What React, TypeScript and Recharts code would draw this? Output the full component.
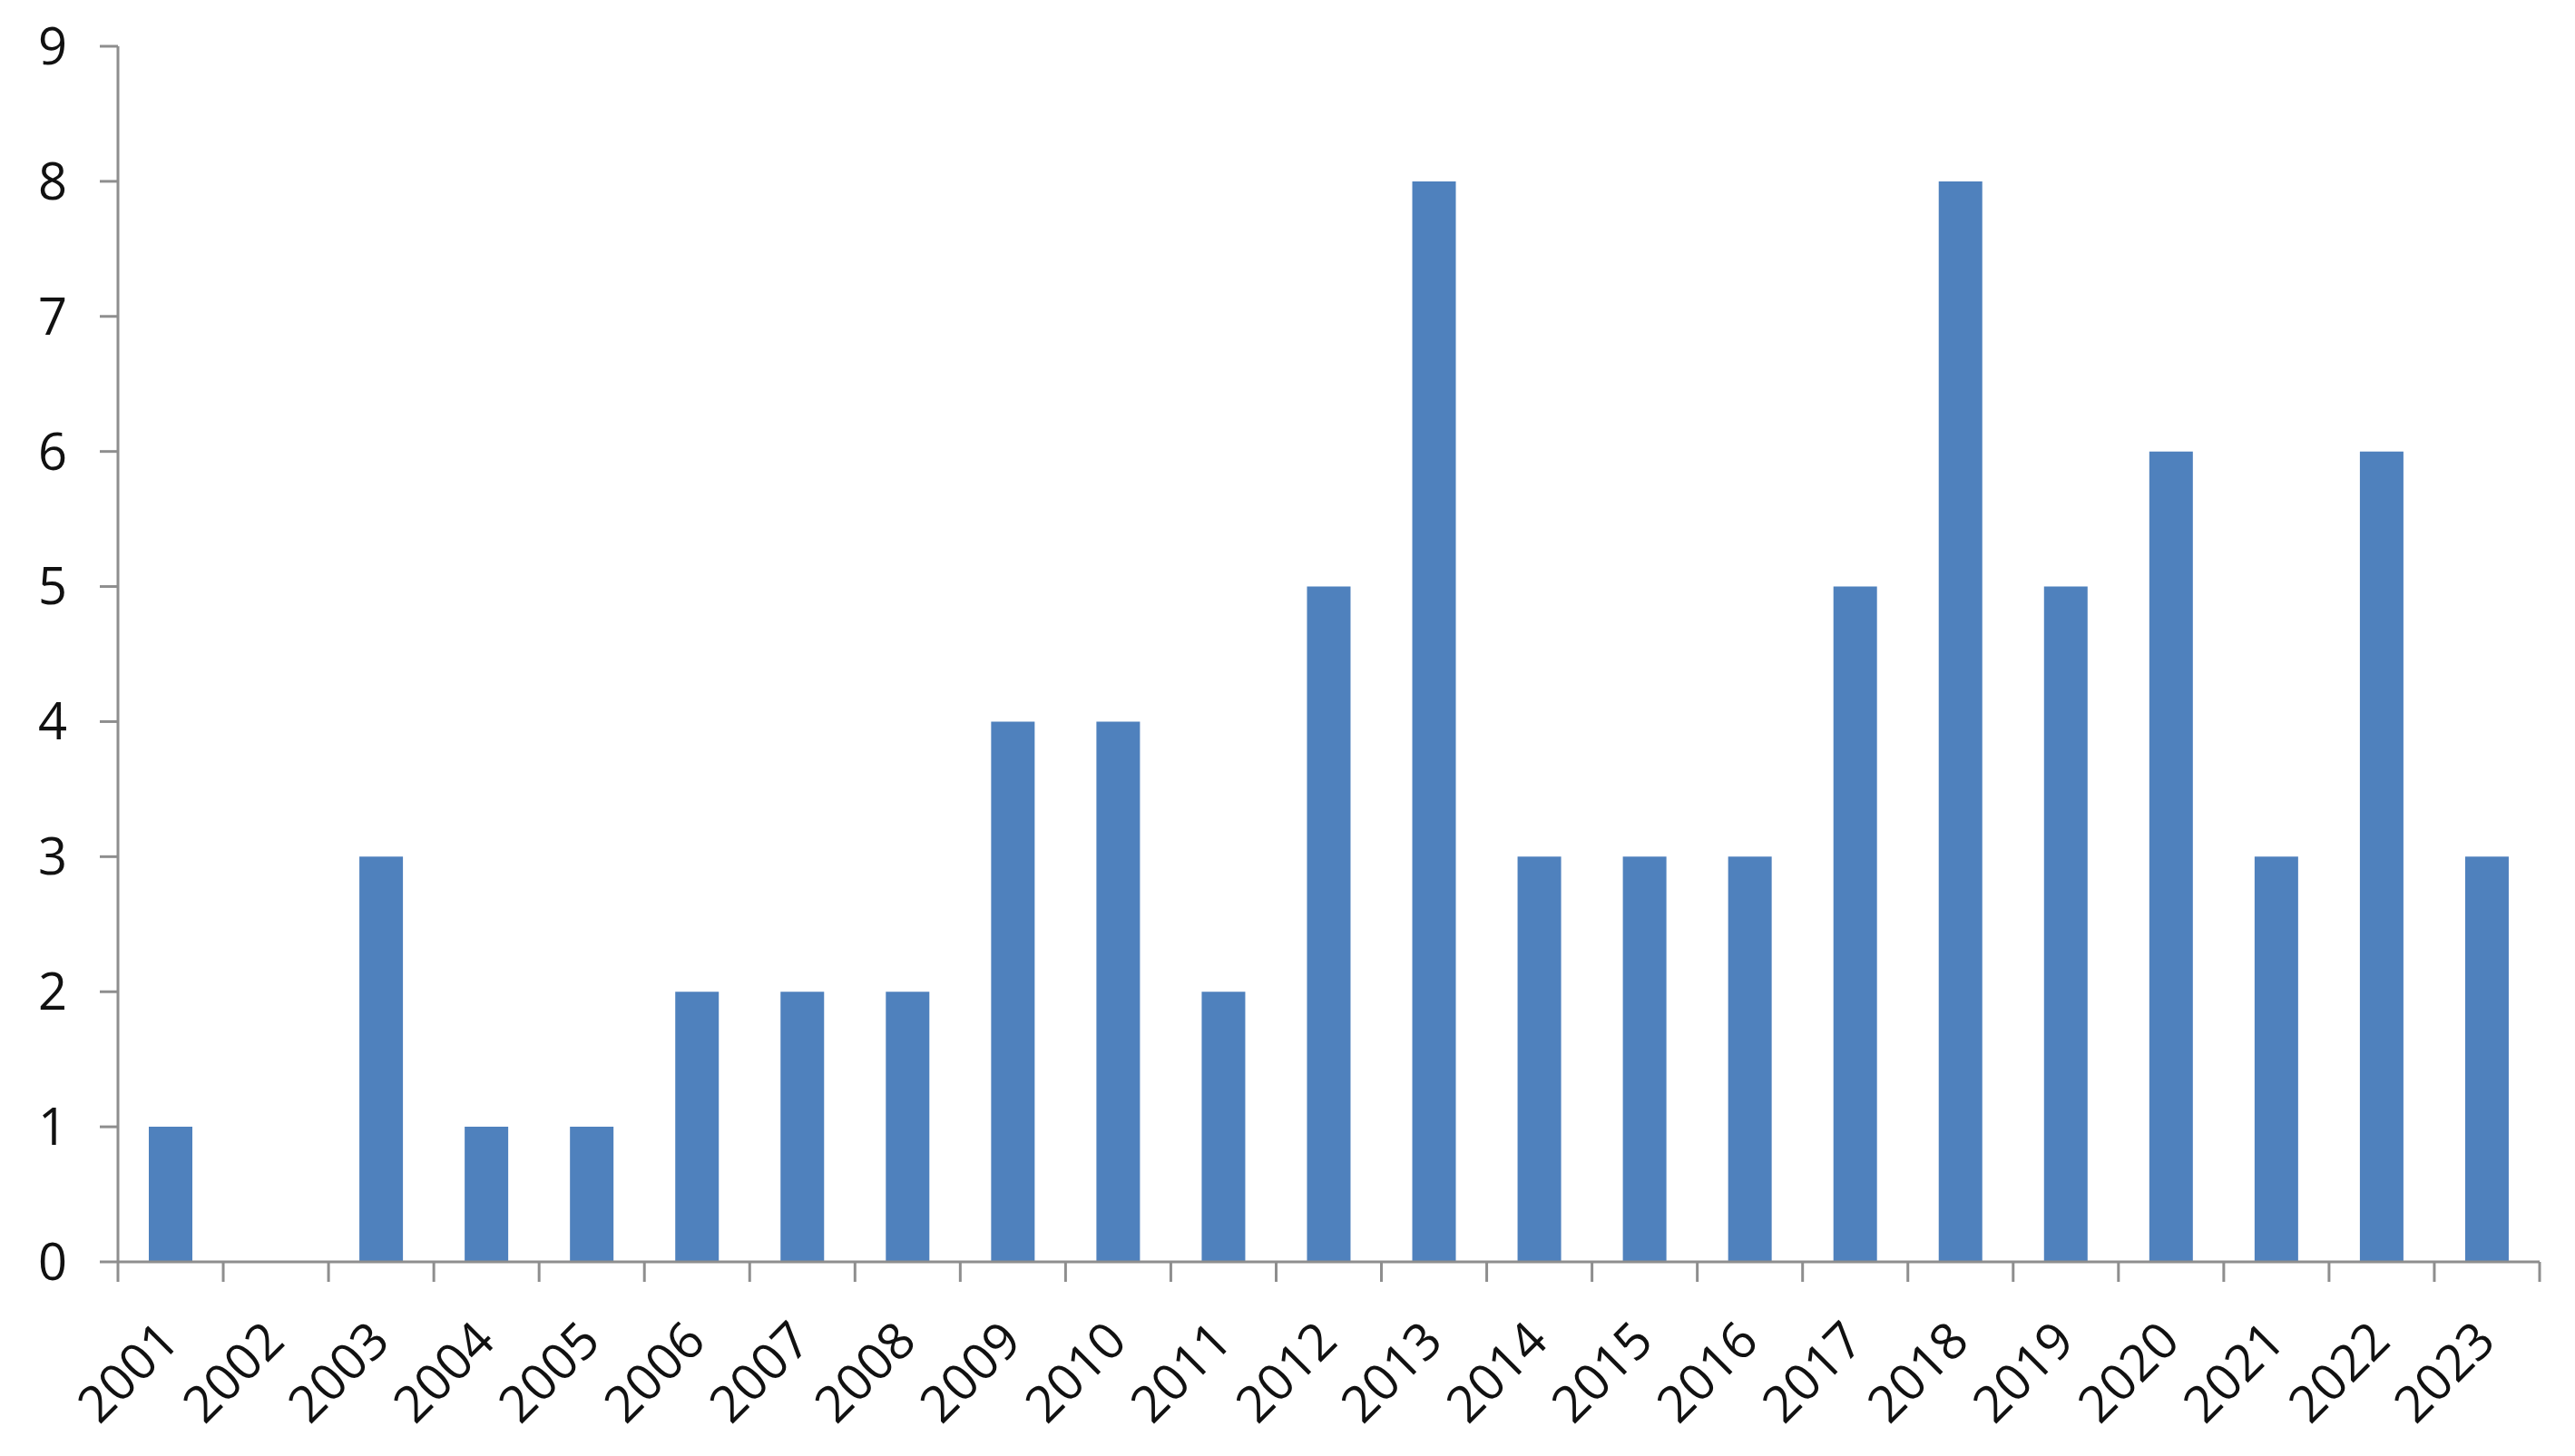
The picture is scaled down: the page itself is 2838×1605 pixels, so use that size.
import { BarChart, Bar, XAxis, YAxis } from 'recharts';

const years = [
  '2001', '2002', '2003', '2004', '2005', '2006', '2007', '2008', '2009', '2010', '2011', '2012',
  '2013', '2014', '2015', '2016', '2017', '2018', '2019', '2020', '2021', '2022', '2023',
];
const counts = [1, 0, 3, 1, 1, 2, 2, 2, 4, 4, 2, 5, 8, 3, 3, 3, 5, 8, 5, 6, 3, 6, 3];
const yTicks = [0, 1, 2, 3, 4, 5, 6, 7, 8, 9];

const data = years.map((year, i) => ({ year, count: counts[i] }));

const AXIS = '#8e8e8e';
const FONT = '"Open Sans", sans-serif';

function YearTick(props: any) {
  const { x, y, payload, index } = props;
  const half = payload?.offset ?? 58;
  const last = index === years.length - 1;
  return (
    <g>
      <line x1={x - half} x2={x - half} y1={y} y2={y + 22} stroke={AXIS} strokeWidth={3} />
      {last && <line x1={x + half} x2={x + half} y1={y} y2={y + 22} stroke={AXIS} strokeWidth={3} />}
      <text
        x={x + 12}
        y={y + 90}
        textAnchor="end"
        transform={`rotate(-45, ${x + 12}, ${y + 90})`}
        fontFamily={FONT}
        fontSize={56}
        fill="#111"
      >
        {payload.value}
      </text>
    </g>
  );
}

export default function App() {
  return (
    <div style={{ position: 'absolute', left: 0, top: 0, background: '#fff' }}>
      <BarChart width={2838} height={1605} data={data} margin={{ top: 51, right: 39, left: 0, bottom: 0 }}>
        <XAxis
          dataKey="year"
          height={214}
          axisLine={{ stroke: AXIS, strokeWidth: 3 }}
          tickLine={false}
          tickSize={0}
          tickMargin={0}
          interval={0}
          tick={<YearTick />}
        />
        <YAxis
          width={130}
          domain={[0, 9]}
          ticks={yTicks}
          interval={0}
          axisLine={{ stroke: AXIS, strokeWidth: 3 }}
          tickLine={{ stroke: AXIS, strokeWidth: 3 }}
          tickSize={20}
          tickMargin={36}
          tick={{ fontFamily: FONT, fontSize: 56, fill: '#111' }}
        />
        <Bar dataKey="count" fill="#4f81bd" barSize={48} isAnimationActive={false} />
      </BarChart>
    </div>
  );
}
